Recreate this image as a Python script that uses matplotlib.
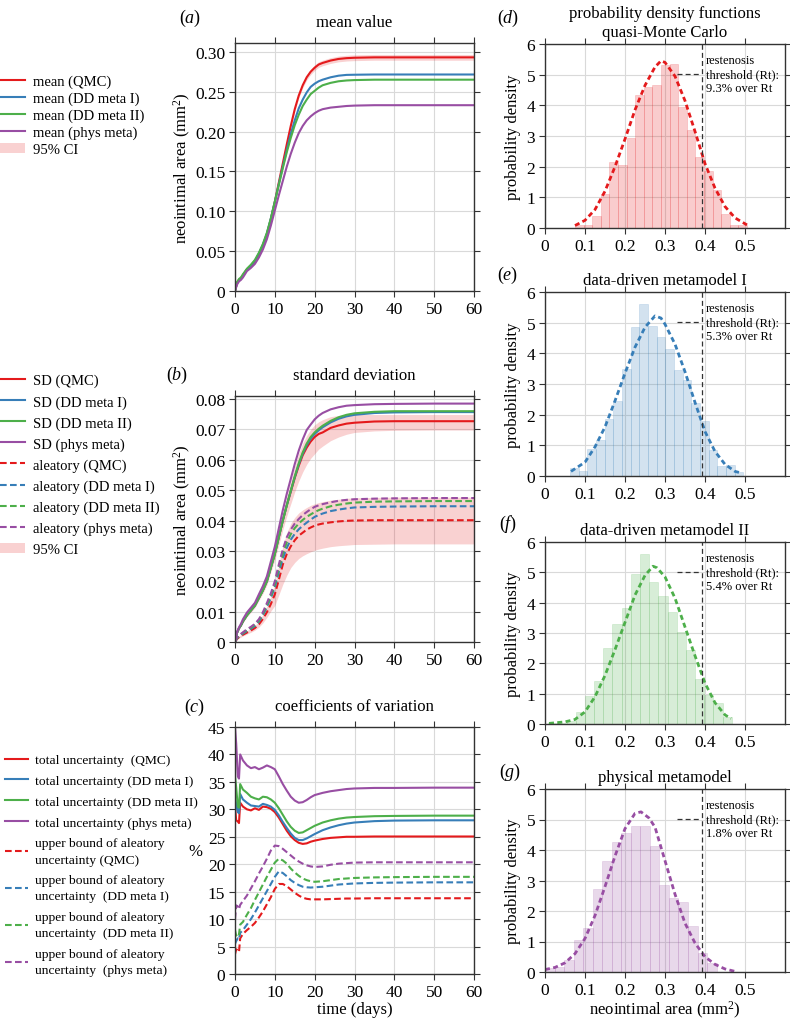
import numpy as np
import matplotlib
matplotlib.use('Agg')
import matplotlib.pyplot as plt

plt.rcParams['font.family'] = 'serif'
plt.rcParams['font.serif'] = ['Liberation Serif', 'DejaVu Serif']
plt.rcParams['mathtext.fontset'] = 'custom'
plt.rcParams['mathtext.rm'] = 'Liberation Serif'
plt.rcParams['mathtext.it'] = 'Liberation Serif:italic'

RED, BLUE, GREEN, PURPLE = '#e41a1c', '#377eb8', '#4daf4a', '#984ea3'

# ---- (a) mean value and (b) standard deviation, time in days ----
t_ab = [0, 0.5, 1, 1.5, 2, 3, 4, 5, 6, 7, 8, 9, 10, 11, 12, 13, 14, 15, 16, 17,
        18, 19, 20, 21, 22, 24, 26, 28, 30, 35, 40, 50, 60]

mean_qmc = [0, .010, .014, .016, .020, .027, .031, .037, .046, .057, .071, .090, .112, .136, .160, .184, .207,
            .228, .245, .258, .268, .275, .280, .284, .286, .289, .291, .292, .2925, .293, .293, .293, .293]
mean_dd1 = [0, .010, .014, .016, .020, .027, .032, .038, .047, .058, .072, .091, .112, .134, .156, .177, .197,
            .214, .229, .240, .249, .256, .260, .263, .265, .268, .270, .271, .2712, .2715, .2715, .2715, .2715]
mean_dd2 = [0, .011, .015, .017, .021, .028, .033, .039, .048, .059, .073, .091, .112, .133, .154, .174, .192,
            .208, .221, .232, .240, .247, .251, .255, .258, .261, .263, .264, .2645, .265, .265, .265, .265]
mean_phys = [0, .008, .012, .014, .017, .025, .029, .034, .042, .052, .065, .082, .101, .120, .138, .156, .172,
             .186, .198, .207, .214, .219, .223, .226, .228, .230, .231, .232, .2325, .233, .233, .233, .233]
mean_ci = [0, .0005, .0008, .001, .001, .001, .0012, .0013, .0015, .0017, .0018, .002, .002, .0022, .0025, .0027,
           .003, .003, .0032, .0033, .0034, .0035, .0035, .0035, .0035, .0036, .0036, .0036, .0036, .0036, .0036,
           .0036, .0036]

sd_qmc = [0, .003, .0045, .0055, .0068, .0088, .0104, .012, .0145, .017, .020, .0245, .029, .0345, .040, .045,
          .0495, .054, .058, .0615, .064, .066, .0675, .0685, .069, .0705, .0713, .0719, .0722, .0726, .0727,
          .0727, .0727]
sd_dd1 = [0, .003, .0045, .0055, .0068, .0088, .0104, .012, .0145, .017, .020, .0245, .029, .0345, .040, .045,
          .0497, .0543, .0585, .062, .0648, .067, .0685, .0697, .0707, .0723, .0735, .0743, .0748, .0754, .0756,
          .0757, .0757]
sd_dd2 = [0, .003, .0045, .0055, .0068, .0088, .0104, .012, .0145, .017, .020, .0245, .029, .0345, .040, .045,
          .0498, .0545, .0588, .0624, .0653, .0675, .069, .0702, .0712, .0728, .074, .0748, .0753, .0758, .076,
          .076, .076]
sd_phys = [0, .0032, .0048, .006, .0075, .0097, .0113, .0129, .0157, .0184, .0216, .0265, .0314, .0374, .0434,
           .0488, .0537, .0586, .063, .0667, .0698, .0716, .0733, .0745, .0754, .0766, .0773, .0778, .078, .0783,
           .0784, .0785, .0785]
sd_lo = [0, .0028, .0042, .0052, .0064, .0083, .0098, .0113, .0137, .016, .0188, .023, .027, .032, .037, .0415,
         .0455, .0495, .053, .056, .0585, .0605, .062, .0635, .0645, .0663, .0675, .0684, .069, .0695, .0697,
         .0698, .0698]
sd_hi = [0, .0032, .0048, .0058, .0072, .0093, .011, .0127, .0153, .018, .0212, .026, .031, .0368, .0425, .048,
         .053, .0578, .062, .0655, .068, .070, .0715, .0725, .0732, .0742, .0746, .0748, .0749, .0749, .0749,
         .0749, .0749]

al_qmc = [0, .001, .0016, .002, .0024, .0031, .0038, .0046, .0058, .0076, .0098, .0125, .0157, .0205, .0255,
          .029, .0315, .0335, .035, .036, .037, .0377, .0383, .0387, .039, .0394, .0397, .0399, .04, .0401, .0401,
          .0401, .0401]
al_dd1 = [0, .0012, .0019, .0023, .0028, .0036, .0044, .0053, .0067, .0088, .0115, .0145, .018, .023, .0275,
          .031, .0337, .0356, .0371, .0383, .0393, .0403, .0412, .0418, .0423, .0431, .0436, .044, .0443, .0445,
          .0446, .0447, .0447]
al_dd2 = [0, .0013, .002, .0025, .003, .0039, .0047, .0057, .0071, .0093, .0121, .0152, .019, .0243, .029,
          .0328, .0355, .0375, .039, .0402, .0412, .042, .0428, .0434, .0439, .0447, .0452, .0456, .0459, .0462,
          .0463, .0464, .0464]
al_phys = [0, .0015, .0022, .0027, .0032, .0042, .005, .006, .0075, .0098, .0128, .016, .020, .0255, .0305,
           .0345, .037, .039, .0405, .0418, .0428, .0437, .0445, .045, .0454, .046, .0465, .0468, .047, .0472,
           .0473, .0474, .0474]
al_lo = [0, .0008, .0013, .0016, .002, .0026, .0032, .0039, .0049, .0063, .0081, .0102, .012, .0155, .019, .022,
         .0245, .0262, .0275, .0284, .0291, .0297, .0302, .0306, .0309, .0314, .0317, .0319, .0321, .0322, .0323,
         .0323, .0323]
al_hi = [0, .0012, .0019, .0024, .0029, .0037, .0045, .0054, .0068, .009, .0118, .015, .019, .0255, .0315, .036,
         .039, .041, .0425, .0435, .0443, .045, .0455, .0459, .0462, .0467, .047, .0473, .0475, .0476, .0477,
         .0477, .0477]

# ---- (c) coefficients of variation (%) ----
t_c = [0, 0.3, 0.7, 1.0, 1.3, 2, 3, 4, 5, 6, 7, 8, 9, 10, 11, 12, 13, 14, 15, 16, 17, 18, 19, 20,
       22, 24, 26, 28, 30, 35, 40, 50, 60]
cv_qmc = [30.5, 28, 27.8, 27.5, 31.2, 30.5, 30, 29.8, 30.2, 29.9, 30.5, 30.4, 30.1, 29.5, 28.5, 27.3, 26.1,
          25.1, 24.4, 23.9, 23.7, 23.8, 24.1, 24.3, 24.6, 24.8, 24.9, 25, 25, 25.05, 25.05, 25.05, 25.05]
cv_dd1 = [32, 31, 29.5, 29.3, 32.8, 31.8, 31.2, 30.7, 30.6, 30.5, 31, 30.8, 30.5, 29.9, 28.9, 27.7, 26.6,
          25.6, 24.8, 24.4, 24.4, 24.7, 25.1, 25.5, 26.2, 26.7, 27.1, 27.4, 27.6, 27.85, 27.95, 28, 28]
cv_dd2 = [36, 34, 30.5, 30.3, 34.6, 33.6, 33, 32.3, 32, 31.8, 32.3, 32.2, 31.8, 31.2, 30.2, 29, 27.8,
          26.8, 26.1, 25.7, 25.8, 26.2, 26.6, 27, 27.6, 28, 28.3, 28.5, 28.6, 28.75, 28.8, 28.85, 28.85]
cv_phys = [45, 42, 36, 35.6, 40, 38.9, 38, 37.5, 37.7, 37.3, 37.6, 38, 37.7, 37.3, 36, 34.6, 33.4,
           32.3, 31.6, 31.2, 31.3, 31.7, 32.2, 32.6, 33.0, 33.3, 33.5, 33.7, 33.8, 33.9, 33.9, 33.95, 33.95]
ub_qmc = [3.6, 4.5, 4.3, 4.0, 6.5, 7.3, 8, 8.6, 9.3, 10.3, 11.4, 12.7, 14, 15.5, 16.4, 16.4, 16,
          15.4, 14.8, 14.3, 13.9, 13.7, 13.6, 13.6, 13.6, 13.65, 13.7, 13.75, 13.75, 13.8, 13.8, 13.8, 13.8]
ub_dd1 = [5.5, 6, 6.5, 6.3, 7.5, 8, 9, 10, 11.2, 12.5, 13.8, 15.1, 16.4, 17.7, 18.7, 18.4, 17.8,
          17.1, 16.6, 16.2, 15.9, 15.8, 15.75, 15.8, 15.9, 16.1, 16.3, 16.4, 16.5, 16.6, 16.65, 16.7, 16.7]
ub_dd2 = [8, 7, 7.5, 7.2, 9, 9.5, 10.8, 12, 13.5, 14.9, 16.3, 17.7, 19, 20.3, 21, 20.7, 20.1,
          19.2, 18.5, 17.9, 17.4, 17.1, 16.9, 16.8, 16.9, 17.1, 17.3, 17.4, 17.5, 17.6, 17.65, 17.7, 17.7]
ub_phys = [10, 12.5, 12.3, 11.8, 12.6, 13.3, 14.3, 15.6, 16.9, 18.3, 19.6, 21, 22.5, 23.4, 23.3, 22.8, 22.2,
           21.6, 21, 20.5, 20.1, 19.8, 19.6, 19.5, 19.6, 19.9, 20.1, 20.2, 20.3, 20.35, 20.35, 20.35, 20.35]

# ---- (d)-(g) histograms of neointimal area at day 60 ----
threshold = 0.393
hist_d = [0.1, 0.1, 0.4, 1.1, 2.15, 2.05, 2.95, 4.35, 4.6, 4.65, 5.3, 5.35, 3.95, 3.2, 2.3, 1.85, 1.25, 0.45, 0.1, 0.1]
hist_e = [0.27, 0.16, 0.88, 1.17, 1.86, 2.46, 3.5, 4.85, 5.6, 4.9, 4.53, 4.14, 3.47, 3.14, 2.38, 1.79, 0.85, 0.33,
          0.37, 0.13]
hist_f = [0.03, 0.03, 0.1, 0.38, 0.93, 1.42, 2.5, 3.29, 3.84, 4.96, 5.6, 4.68, 4.22, 3.7, 3.04, 2.43, 1.48, 0.96,
          0.69, 0.22]
hist_g = [0.14, 0.17, 0.39, 1.06, 1.43, 2.72, 3.65, 4.25, 4.56, 4.8, 4.8, 4.14, 2.85, 2.41, 2.3, 1.51, 0.61, 0.31]
hist_range = {'d': (0.075, 0.505), 'e': (0.0625, 0.496), 'f': (0.008, 0.467), 'g': (0.0, 0.429)}

pdf_x_d = [0.075, 0.1, 0.125, 0.15, 0.175, 0.2, 0.225, 0.25, 0.275, 0.29, 0.3, 0.325, 0.35, 0.375, 0.4, 0.425,
           0.45, 0.475, 0.505]
pdf_y_d = [0.08, 0.25, 0.6, 1.2, 2.0, 2.9, 3.85, 4.65, 5.25, 5.45, 5.4, 4.95, 4.15, 3.15, 2.1, 1.3, 0.7, 0.33, 0.1]
pdf_x_e = [0.065, 0.1, 0.125, 0.15, 0.175, 0.2, 0.225, 0.25, 0.275, 0.29, 0.3, 0.325, 0.35, 0.375, 0.4, 0.425,
           0.45, 0.475, 0.49]
pdf_y_e = [0.15, 0.45, 0.95, 1.6, 2.45, 3.35, 4.2, 4.85, 5.22, 5.15, 4.95, 4.3, 3.4, 2.4, 1.45, 0.8, 0.38, 0.15, 0.1]
pdf_x_f = [0.01, 0.05, 0.075, 0.1, 0.125, 0.15, 0.175, 0.2, 0.225, 0.25, 0.27, 0.28, 0.3, 0.325, 0.35, 0.375,
           0.4, 0.425, 0.45, 0.465]
pdf_y_f = [0.02, 0.07, 0.15, 0.4, 0.9, 1.6, 2.45, 3.35, 4.25, 4.9, 5.2, 5.15, 4.85, 4.15, 3.2, 2.25, 1.35, 0.7,
           0.3, 0.18]
pdf_x_g = [0, 0.025, 0.05, 0.075, 0.1, 0.125, 0.15, 0.175, 0.2, 0.225, 0.24, 0.26, 0.275, 0.3, 0.325, 0.35,
           0.375, 0.4, 0.425, 0.45, 0.475]
pdf_y_g = [0.08, 0.15, 0.3, 0.6, 1.1, 1.85, 2.8, 3.8, 4.7, 5.2, 5.25, 5.05, 4.75, 3.65, 2.55, 1.6, 0.95, 0.5,
           0.25, 0.1, 0.02]

over_rt = ['9.3%', '5.3%', '5.4%', '1.8%']
hist_titles = ['probability density functions\nquasi-Monte Carlo', 'data-driven metamodel I',
               'data-driven metamodel II', 'physical metamodel']

W, H = 790, 1020


def px_axes(left, top, right, bottom):
    return [left / W, 1 - bottom / H, (right - left) / W, (bottom - top) / H]


def style(ax):
    ax.grid(color='#d9d9d9', lw=0.8)
    ax.set_axisbelow(True)
    ax.tick_params(direction='out', top=True, right=True, length=4, width=0.8,
                   labelsize=12.5, color='#333333', pad=3)
    for s in ax.spines.values():
        s.set_color('#333333')
        s.set_linewidth(1.0)


fig = plt.figure(figsize=(7.9, 10.2), dpi=100)
dashed = (0, (3.2, 1.6))
leg_kw = dict(frameon=False, handlelength=1.7, handletextpad=0.55,
              borderpad=0, borderaxespad=0, loc='upper left')

# (a)
ax = fig.add_axes(px_axes(235, 44, 474, 292))
style(ax)
ta = np.array(t_ab)
ax.fill_between(ta, np.array(mean_qmc) - mean_ci, np.array(mean_qmc) + mean_ci,
                color=RED, alpha=0.2, lw=0, label='95% CI')
ax.plot(ta, mean_qmc, color=RED, lw=1.5, label='mean (QMC)')
ax.plot(ta, mean_dd1, color=BLUE, lw=1.5, label='mean (DD meta I)')
ax.plot(ta, mean_dd2, color=GREEN, lw=1.5, label='mean (DD meta II)')
ax.plot(ta, mean_phys, color=PURPLE, lw=1.5, label='mean (phys meta)')
ax.set_xlim(0, 60)
ax.set_ylim(0, 0.311)
ax.set_xticks(range(0, 61, 10))
ax.set_yticks([0, .05, .10, .15, .20, .25, .30])
ax.set_yticklabels(['0', '0.05', '0.10', '0.15', '0.20', '0.25', '0.30'])
ax.set_ylabel('neointimal area (mm$^2$)', fontsize=12)
ax.yaxis.set_label_coords(-0.175, 0.5)
ax.set_title('mean value', fontsize=12, pad=12)
h, l = ax.get_legend_handles_labels()
fig.legend(h[1:] + h[:1], l[1:] + l[:1], bbox_to_anchor=(0, 1 - 76 / H), fontsize=10.5,
           labelspacing=0.24, **leg_kw)

# (b)
ax = fig.add_axes(px_axes(235, 397, 474, 643))
style(ax)
ax.fill_between(ta, sd_lo, sd_hi, color=RED, alpha=0.2, lw=0, label='95% CI')
ax.fill_between(ta, al_lo, al_hi, color=RED, alpha=0.2, lw=0)
ax.plot(ta, sd_qmc, color=RED, lw=1.5, label='SD (QMC)')
ax.plot(ta, sd_dd1, color=BLUE, lw=1.5, label='SD (DD meta I)')
ax.plot(ta, sd_dd2, color=GREEN, lw=1.5, label='SD (DD meta II)')
ax.plot(ta, sd_phys, color=PURPLE, lw=1.5, label='SD (phys meta)')
ax.plot(ta, al_qmc, color=RED, lw=1.5, ls=dashed, label='aleatory (QMC)')
ax.plot(ta, al_dd1, color=BLUE, lw=1.5, ls=dashed, label='aleatory (DD meta I)')
ax.plot(ta, al_dd2, color=GREEN, lw=1.5, ls=dashed, label='aleatory (DD meta II)')
ax.plot(ta, al_phys, color=PURPLE, lw=1.5, ls=dashed, label='aleatory (phys meta)')
ax.set_xlim(0, 60)
ax.set_ylim(0, 0.081)
ax.set_xticks(range(0, 61, 10))
ax.set_yticks([0, .01, .02, .03, .04, .05, .06, .07, .08])
ax.set_yticklabels(['0', '0.01', '0.02', '0.03', '0.04', '0.05', '0.06', '0.07', '0.08'])
ax.set_ylabel('neointimal area (mm$^2$)', fontsize=12)
ax.yaxis.set_label_coords(-0.175, 0.5)
ax.set_title('standard deviation', fontsize=12, pad=12)
h, l = ax.get_legend_handles_labels()
fig.legend(h[1:] + h[:1], l[1:] + l[:1], bbox_to_anchor=(0, 1 - 375 / H), fontsize=10.5,
           labelspacing=0.52, **leg_kw)

# (c)
ax = fig.add_axes(px_axes(235, 728, 474, 975))
style(ax)
tc = np.array(t_c)
ax.plot(tc, cv_qmc, color=RED, lw=1.5, label='total uncertainty  (QMC)')
ax.plot(tc, cv_dd1, color=BLUE, lw=1.5, label='total uncertainty (DD meta I)')
ax.plot(tc, cv_dd2, color=GREEN, lw=1.5, label='total uncertainty (DD meta II)')
ax.plot(tc, cv_phys, color=PURPLE, lw=1.5, label='total uncertainty (phys meta)')
ax.plot(tc, ub_qmc, color=RED, lw=1.5, ls=dashed, label='upper bound of aleatory\nuncertainty (QMC)')
ax.plot(tc, ub_dd1, color=BLUE, lw=1.5, ls=dashed, label='upper bound of aleatory\nuncertainty  (DD meta I)')
ax.plot(tc, ub_dd2, color=GREEN, lw=1.5, ls=dashed, label='upper bound of aleatory\nuncertainty  (DD meta II)')
ax.plot(tc, ub_phys, color=PURPLE, lw=1.5, ls=dashed, label='upper bound of aleatory\nuncertainty  (phys meta)')
ax.set_xlim(0, 60)
ax.set_ylim(0, 45)
ax.set_xticks(range(0, 61, 10))
ax.set_yticks(range(0, 46, 5))
ax.set_xlabel('time (days)', fontsize=12, labelpad=1)
ax.set_ylabel('%', fontsize=12, rotation=0, va='center', ha='center')
ax.yaxis.set_label_coords(-0.167, 0.5)
ax.set_title('coefficients of variation', fontsize=12, pad=12)
leg = fig.legend(*ax.get_legend_handles_labels(), bbox_to_anchor=(5 / W, 1 - 755 / H), fontsize=9.7,
                 labelspacing=0.62, **leg_kw)
for t in leg.get_texts():
    t.set_linespacing(1.5)

# (d)-(g)
hist_boxes = [(45, 229), (293, 477), (543, 725), (790, 973)]
hists = [hist_d, hist_e, hist_f, hist_g]
pdfs = [(pdf_x_d, pdf_y_d), (pdf_x_e, pdf_y_e), (pdf_x_f, pdf_y_f), (pdf_x_g, pdf_y_g)]
colors = [RED, BLUE, GREEN, PURPLE]
keys = ['d', 'e', 'f', 'g']
for i in range(4):
    top, bottom = hist_boxes[i]
    ax = fig.add_axes(px_axes(545, top, 785, bottom))
    style(ax)
    lo, hi = hist_range[keys[i]]
    edges = np.linspace(lo, hi, len(hists[i]) + 1)
    ax.bar(edges[:-1], hists[i], width=np.diff(edges), align='edge', color=colors[i], alpha=0.22,
           edgecolor=colors[i], linewidth=0.5)
    ax.plot(pdfs[i][0], pdfs[i][1], color=colors[i], lw=2, ls=(0, (1.8, 1.2)))
    vl = ax.axvline(threshold, color='#333333', lw=0.9, ls=(0, (4, 2.5)))
    ax.legend([vl], ['restenosis\nthreshold (Rt):\n%s over Rt' % over_rt[i]], loc='upper right',
              bbox_to_anchor=(1.0, 1 - 4 / (bottom - top)),
              frameon=False, fontsize=9, handlelength=1.75, handletextpad=0.55,
              borderaxespad=0.3, borderpad=0.2)
    ax.set_xlim(0, 0.6)
    ax.set_ylim(0, 6)
    ax.set_xticks([0, 0.1, 0.2, 0.3, 0.4, 0.5])
    ax.set_xticklabels(['0', '0.1', '0.2', '0.3', '0.4', '0.5'])
    ax.set_yticks(range(0, 7))
    ax.set_ylabel('probability density', fontsize=12)
    ax.yaxis.set_label_coords(-0.1, 0.5)
    ax.set_title(hist_titles[i], fontsize=12, pad=6, linespacing=1.2)
    if i == 3:
        ax.set_xlabel('neointimal area (mm$^2$)', fontsize=12, labelpad=1)

# panel letters
for txt, x, y in [('a', 190, 18), ('b', 177, 375), ('c', 195, 707),
                  ('d', 508, 18), ('e', 508, 275), ('f', 508, 524), ('g', 510, 772)]:
    fig.text(x / W, 1 - y / H, r'$(%s)$' % txt, fontsize=13, ha='center', va='center')

fig.savefig('out.png', dpi=100)
